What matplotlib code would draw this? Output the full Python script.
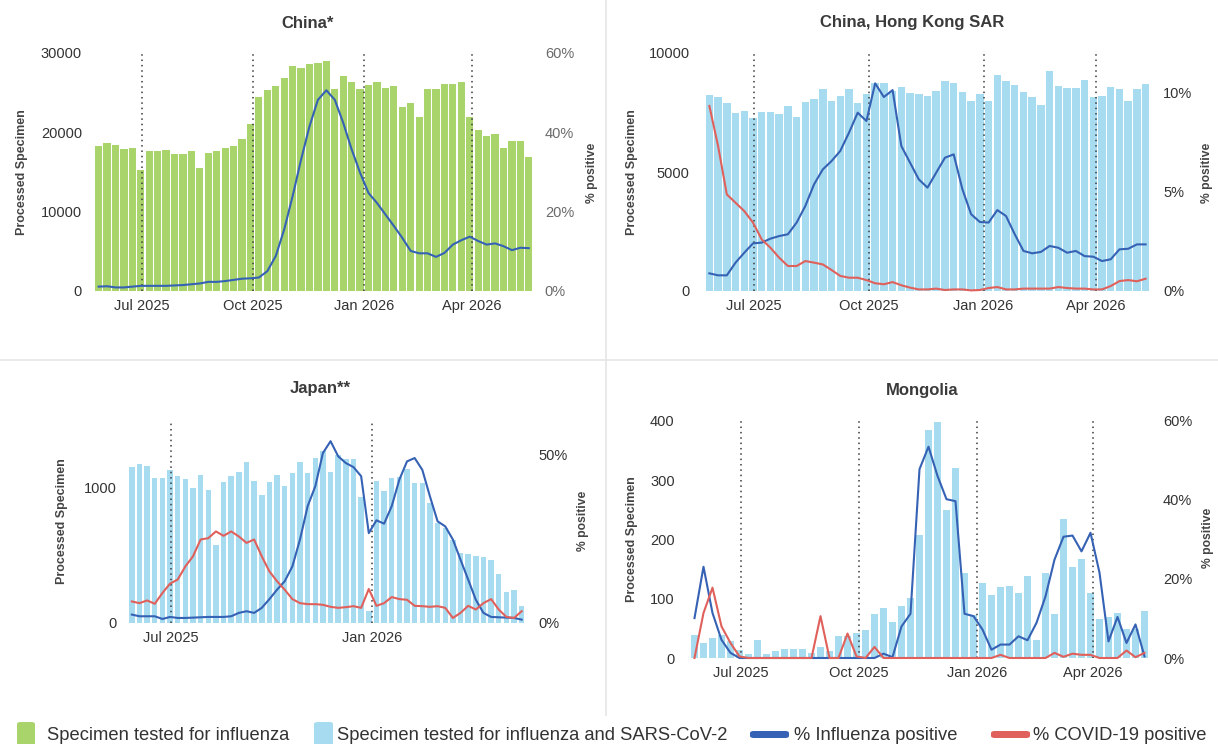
import matplotlib
matplotlib.use("Agg")
import matplotlib.pyplot as plt
import matplotlib.dates as mdates
from matplotlib.patches import FancyBboxPatch
import pandas as pd

plt.rcParams['font.family'] = ['Liberation Sans', 'DejaVu Sans']

# ---------------- data ----------------
week_start = "2025-05-26"

china_specimens = [18250, 18600, 18400, 17900, 18000, 15300, 17600, 17600, 17750, 17250, 17300, 17700,
                   15500, 17450, 17600, 18050, 18250, 19200, 21000, 24500, 25300, 25850, 26800, 28300,
                   28100, 28600, 28750, 29000, 25500, 27150, 26400, 25400, 26000, 26400, 25600, 25800,
                   23150, 23700, 21950, 25500, 25400, 26150, 26050, 26400, 21950, 20350, 19500, 19800,
                   18050, 18900, 18900, 16850]
china_flu = [1.1, 1.2, 0.9, 0.9, 1.1, 1.3, 1.3, 1.3, 1.3, 1.4, 1.5, 1.7, 1.9, 2.3, 2.3, 2.5, 2.8, 3.1,
             3.2, 3.4, 5.0, 8.8, 15.5, 23.9, 33.1, 41.5, 48.2, 50.6, 48.2, 42.4, 35.7, 29.8, 24.7, 22.2,
             19.3, 16.4, 13.4, 10.1, 9.5, 9.5, 8.6, 9.6, 11.7, 12.8, 13.7, 12.6, 11.7, 12.0, 11.3, 10.3,
             10.9, 10.8]

hk_specimens = [8250, 8140, 7900, 7500, 7570, 7260, 7540, 7540, 7430, 7790, 7330, 7930, 8070, 8490,
                8000, 8210, 8490, 7890, 8290, 8740, 8740, 8390, 8570, 8320, 8290, 8210, 8420, 8810,
                8740, 8360, 7970, 8290, 7970, 9060, 8810, 8670, 8350, 8150, 7820, 9260, 8600, 8530,
                8530, 8850, 8170, 8210, 8570, 8490, 8000, 8490, 8710]
hk_flu = [0.89, 0.79, 0.79, 1.43, 1.93, 2.4, 2.44, 2.64, 2.77, 2.86, 3.45, 4.29, 5.38, 6.13, 6.55,
          7.06, 7.98, 8.99, 8.57, 10.47, 9.78, 10.13, 7.31, 6.47, 5.63, 5.21, 5.97, 6.72, 6.89, 5.13,
          3.87, 3.48, 3.45, 4.08, 3.78, 2.86, 2.02, 1.9, 1.97, 2.27, 2.18, 1.93, 2.02, 1.76, 1.73,
          1.51, 1.6, 2.1, 2.13, 2.35, 2.35]
hk_covid = [9.33, 7.31, 4.87, 4.45, 4.03, 3.45, 2.6, 2.18, 1.68, 1.26, 1.26, 1.51, 1.43, 1.34, 1.06,
            0.76, 0.67, 0.67, 0.55, 0.39, 0.34, 0.45, 0.29, 0.17, 0.08, 0.08, 0.12, 0.05, 0.08, 0.08,
            0.03, 0.05, 0.15, 0.2, 0.08, 0.08, 0.12, 0.12, 0.12, 0.12, 0.2, 0.15, 0.12, 0.12, 0.08,
            0.08, 0.25, 0.5, 0.55, 0.49, 0.62]

japan_specimens = [1156, 1173, 1160, 1074, 1074, 1128, 1084, 1067, 1000, 1091, 980, 580, 1042, 1086,
                   1116, 1190, 1049, 943, 1042, 1094, 1012, 1106, 1190, 1111, 1222, 1272, 1116, 1240,
                   1210, 1215, 933, 86, 1049, 975, 1074, 1081, 1141, 1037, 1037, 884, 741, 704, 617,
                   519, 511, 494, 489, 464, 365, 227, 242, 123]
japan_flu = [2.5, 2.0, 2.0, 2.0, 1.2, 1.8, 1.5, 1.5, 1.6, 1.7, 1.8, 1.8, 1.8, 2.0, 3.0, 3.5, 3.0, 4.5,
             7.1, 9.9, 12.4, 16.8, 24.8, 34.7, 40.6, 50.5, 54.0, 49.5, 47.5, 46.3, 43.6, 26.7, 30.5,
             29.5, 34.7, 42.6, 48.0, 49.0, 45.5, 37.6, 30.2, 28.7, 24.8, 18.8, 12.9, 6.9, 3.0, 1.8,
             1.7, 1.6, 1.5, 1.0]
japan_covid = [6.4, 5.9, 6.7, 5.7, 8.9, 11.7, 12.9, 16.8, 19.8, 24.8, 25.2, 27.2, 25.9, 27.2, 25.7,
               23.8, 24.8, 19.8, 15.3, 12.4, 9.9, 7.1, 5.9, 5.6, 5.6, 5.4, 4.8, 4.5, 4.7, 5.0, 4.5,
               10.1, 5.1, 5.9, 7.7, 7.1, 6.9, 5.1, 5.0, 4.8, 5.0, 4.5, 1.5, 3.0, 5.1, 4.0, 5.9, 7.1,
               4.0, 1.8, 1.5, 3.5]

mongolia_specimens = [39, 26, 34, 38, 28, 13, 6, 30, 6, 11, 15, 15, 15, 8, 19, 11, 37, 37, 43, 47, 74,
                      85, 60, 87, 101, 208, 385, 398, 250, 321, 144, 72, 126, 107, 120, 121, 110, 138,
                      31, 144, 75, 235, 154, 167, 110, 65, 70, 76, 49, 49, 79]
mongolia_flu = [10.1, 23.1, 11.4, 4.6, 1.3, 0, 0, 0, 0, 0, 0, 0, 0, 0, 0, 0, 0, 0, 0, 0, 0, 1.1, 0.2,
                8.0, 11.2, 47.8, 53.5, 46.1, 40.2, 39.7, 11.2, 10.6, 7.2, 2.1, 3.4, 3.4, 5.5, 4.5, 8.9,
                15.6, 24.9, 30.7, 31.0, 27.0, 31.7, 21.6, 4.2, 10.4, 3.8, 8.5, 0.4]
mongolia_covid = [0, 11.4, 17.8, 8.0, 3.8, 0.4, 0, 0, 0, 0, 0, 0, 0, 0, 10.6, 0, 0, 6.2, 0.4, 0, 2.8,
                  0, 0, 0, 0, 0, 0, 0, 0, 0, 0, 0, 0, 0, 0.8, 0, 0, 0, 0, 0, 1.3, 0.3, 1.1, 0.8, 0.8,
                  0, 0, 0, 1.9, 0.2, 1.3]

tick_dates_all = ["2025-07-01", "2025-10-01", "2026-01-01", "2026-04-01"]
tick_labels_all = ["Jul 2025", "Oct 2025", "Jan 2026", "Apr 2026"]
tick_dates_japan = ["2025-07-01", "2026-01-01"]
tick_labels_japan = ["Jul 2025", "Jan 2026"]

titles = ["China*", "China, Hong Kong SAR", "Japan**", "Mongolia"]
legend_labels = ["Specimen tested for influenza", "Specimen tested for influenza and SARS-CoV-2",
                 "% Influenza positive", "% COVID-19 positive"]

# ---------------- style ----------------
GREEN = "#a9d36b"
LBLUE = "#a7dbef"
BLUE = "#3562b4"
RED = "#e0605b"
TXT = "#333333"

W, H = 1218, 744
fig = plt.figure(figsize=(W / 100, H / 100), dpi=100)


def rect(l, r, b, t):
    return [l / W, 1 - b / H, (r - l) / W, (b - t) / H]


def panel(box, specimens, flu, covid, bar_color, bar_w, ymax, yticks, pmax, pticks,
          tdates, tlabels, lpad, rpad, rcolor):
    n = len(specimens)
    x = mdates.date2num(pd.date_range(week_start, periods=n, freq="7D"))
    ax = fig.add_axes(box)
    ax.bar(x, specimens, width=bar_w, color=bar_color, zorder=1, linewidth=0)
    ax.set_xlim(x[0] - 3.5, x[-1] + 3.5)
    ax.set_ylim(0, ymax)
    ax.set_yticks(yticks)
    ax.set_yticklabels([str(v) for v in yticks])
    td = mdates.date2num(pd.to_datetime(tdates))
    ax.set_xticks(td)
    ax.set_xticklabels(tlabels)
    for d in td:
        ax.axvline(d, color="#3a3a3a", lw=1.1, ls=(0, (1, 2.5)), zorder=3)
    for s in ax.spines.values():
        s.set_visible(False)
    ax.tick_params(axis="y", length=0, pad=lpad, labelsize=10.5, labelcolor=TXT)
    ax.tick_params(axis="x", length=0, pad=6, labelsize=10.5, labelcolor=TXT)

    ax2 = ax.twinx()
    ax2.plot(x, flu, color=BLUE, lw=1.5, zorder=4, clip_on=False)
    if covid is not None:
        ax2.plot(x, covid, color=RED, lw=1.5, zorder=5, clip_on=False)
    ax2.set_ylim(0, pmax)
    ax2.set_yticks(pticks)
    ax2.set_yticklabels([f"{v}%" for v in pticks])
    for s in ax2.spines.values():
        s.set_visible(False)
    ax2.tick_params(axis="y", length=0, pad=rpad, labelsize=10.5, labelcolor=rcolor)
    return ax, ax2


panel(rect(94.4, 533, 291, 53), china_specimens, china_flu, None, GREEN, 6.0,
      30000, [0, 10000, 20000, 30000], 60, [0, 20, 40, 60],
      tick_dates_all, tick_labels_all, 9, 8.5, "#6a6a6a")
panel(rect(705, 1150, 291, 53), hk_specimens, hk_flu, hk_covid, LBLUE, 6.0,
      10000, [0, 5000, 10000], 12, [0, 5, 10],
      tick_dates_all, tick_labels_all, 11, 9.5, TXT)
panel(rect(128, 525.5, 623, 421), japan_specimens, japan_flu, japan_covid, LBLUE, 5.0,
      1494, [0, 1000], 60, [0, 50],
      tick_dates_japan, tick_labels_japan, 8, 9, TXT)
panel(rect(690, 1149, 658, 421), mongolia_specimens, mongolia_flu, mongolia_covid, LBLUE, 6.2,
      400, [0, 100, 200, 300, 400], 60, [0, 20, 40, 60],
      tick_dates_all, tick_labels_all, 11, 10, TXT)

# titles and axis labels
title_pos = [(308, 23), (912, 23), (320, 389), (922, 390)]
for t, (px, py) in zip(titles, title_pos):
    fig.text(px / W, 1 - py / H, t, ha="center", va="center", fontsize=12,
             fontweight="bold", color="#3a3a3a")

for (px, py) in [(22, 172), (632, 172), (62, 521), (632, 539)]:
    fig.text(px / W, 1 - py / H, "Processed Specimen", rotation=90, ha="center", va="center",
             fontsize=9, fontweight="bold", color="#444444")
for (px, py) in [(592, 173), (1207, 173), (583, 521), (1208, 538)]:
    fig.text(px / W, 1 - py / H, "% positive", rotation=90, ha="center", va="center",
             fontsize=8.7, fontweight="bold", color="#444444")

# dividers
fig.add_artist(plt.Line2D([0, 1], [1 - 360 / H, 1 - 360 / H], transform=fig.transFigure,
                          color="#e4e6e6", lw=1.2))
fig.add_artist(plt.Line2D([606 / W, 606 / W], [1 - 715 / H, 1], transform=fig.transFigure,
                          color="#e4e6e6", lw=1.2))

# legend (manual)
ly = 735
def fbox(l, r, b, t, color):
    p = FancyBboxPatch((l / W, 1 - b / H), (r - l) / W, (b - t) / H,
                       boxstyle="round,pad=0,rounding_size=0.003", transform=fig.transFigure,
                       facecolor=color, edgecolor="none")
    fig.add_artist(p)

fbox(17, 35, 748, 722, GREEN)
fig.text(47 / W, 1 - ly / H, legend_labels[0], ha="left", va="center", fontsize=13.2, color=TXT)
fbox(314, 333, 748, 722, LBLUE)
fig.text(337 / W, 1 - (ly + 1) / H, legend_labels[1], ha="left", va="center", fontsize=13.2, color=TXT)
fbox(750, 789, 738, 731, BLUE)
fig.text(794 / W, 1 - ly / H, legend_labels[2], ha="left", va="center", fontsize=13.2, color=TXT)
fbox(991, 1030, 738, 731, RED)
fig.text(1033 / W, 1 - ly / H, legend_labels[3], ha="left", va="center", fontsize=13.2, color=TXT)

fig.savefig("out.png", dpi=100, facecolor="white")
